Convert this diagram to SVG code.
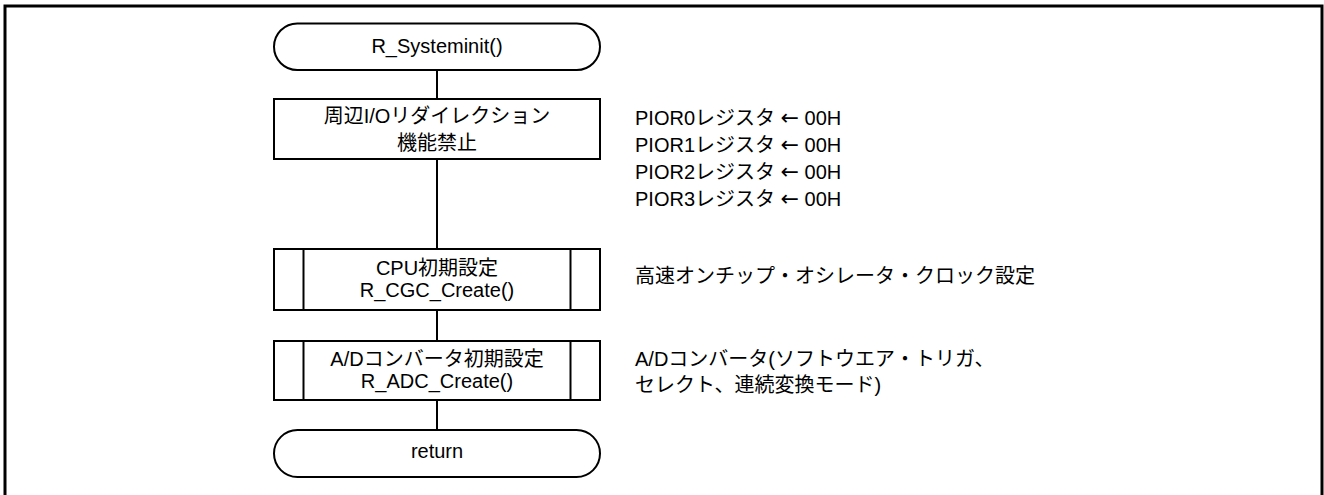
<svg xmlns="http://www.w3.org/2000/svg" width="1324" height="495" viewBox="0 0 1324 495">
<style>
.s{fill:#fff;stroke:#000;stroke-width:2}
.l{fill:none;stroke:#000;stroke-width:2}
text{font-family:"Liberation Sans","Noto Sans CJK JP",sans-serif;font-size:20px;fill:#000}
.c{text-anchor:middle}
.a{font-family:"DejaVu Sans",sans-serif;font-size:22px}
</style>
<rect x="0" y="0" width="1324" height="495" fill="#fff"/>
<rect x="5" y="6" width="1317" height="500" fill="none" stroke="#000" stroke-width="3"/>
<g id="connectors">
<line class="l" x1="437" y1="70" x2="437" y2="99"/>
<line class="l" x1="437" y1="159" x2="437" y2="249"/>
<line class="l" x1="437" y1="310" x2="437" y2="341"/>
<line class="l" x1="437" y1="400" x2="437" y2="430"/>
</g>
<g id="start">
<rect class="s" x="274" y="23.5" width="326" height="46.5" rx="23.25"/>
<text class="c" x="437" y="53">R_Systeminit()</text>
</g>
<g id="pior">
<rect class="s" x="274" y="99" width="326" height="60"/>
<text class="c" x="437" y="123">周辺I/Oリダイレクション</text>
<text class="c" x="437" y="150">機能禁止</text>
</g>
<g id="cgc">
<rect class="s" x="274" y="249" width="326" height="61"/>
<line class="l" x1="303.5" y1="249" x2="303.5" y2="310"/>
<line class="l" x1="570.5" y1="249" x2="570.5" y2="310"/>
<text class="c" x="437" y="275">CPU初期設定</text>
<text class="c" x="437" y="297">R_CGC_Create()</text>
</g>
<g id="adc">
<rect class="s" x="274" y="341" width="326" height="59"/>
<line class="l" x1="303.5" y1="341" x2="303.5" y2="400"/>
<line class="l" x1="570.5" y1="341" x2="570.5" y2="400"/>
<text class="c" x="437" y="366">A/Dコンバータ初期設定</text>
<text class="c" x="437" y="388">R_ADC_Create()</text>
</g>
<g id="end">
<rect class="s" x="274" y="430" width="326" height="47" rx="23.5"/>
<text class="c" x="437" y="458">return</text>
</g>
<g id="notes">
<text x="635" y="125">PIOR0レジスタ <tspan class="a">←</tspan> 00H</text>
<text x="635" y="152">PIOR1レジスタ <tspan class="a">←</tspan> 00H</text>
<text x="635" y="179">PIOR2レジスタ <tspan class="a">←</tspan> 00H</text>
<text x="635" y="206">PIOR3レジスタ <tspan class="a">←</tspan> 00H</text>
<text x="635" y="283">高速オンチップ・オシレータ・クロック設定</text>
<text x="635" y="366">A/Dコンバータ(ソフトウエア・トリガ、</text>
<text x="635" y="392">セレクト、連続変換モード)</text>
</g>
</svg>
